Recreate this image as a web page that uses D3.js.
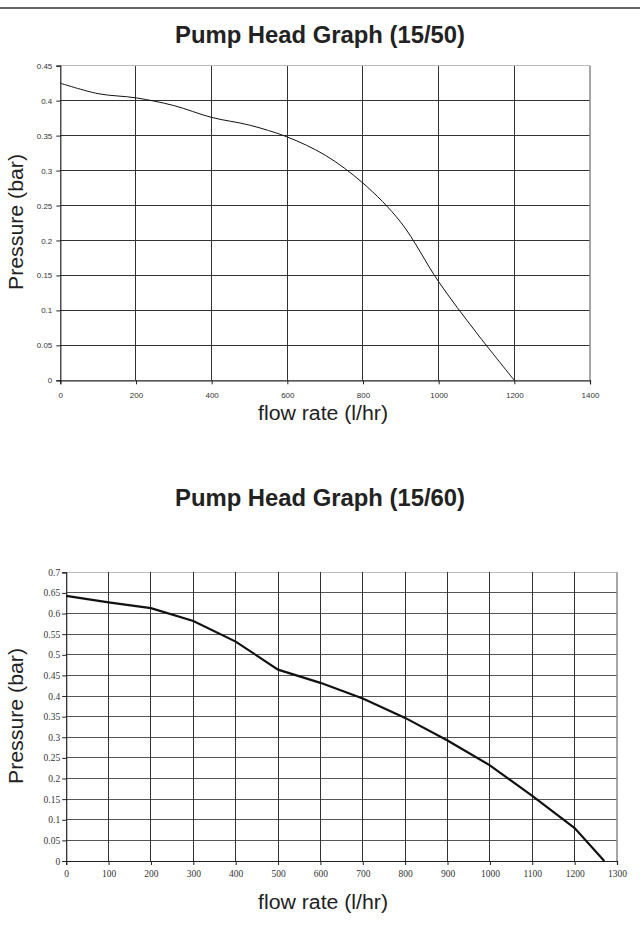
<!DOCTYPE html>
<html><head><meta charset="utf-8">
<script src="https://cdn.jsdelivr.net/npm/d3@7"></script>
<style>body{margin:0;background:#fff}svg{display:block}</style>
</head><body>
<script>
// Chart 1 (15/50)
const flow1 = [0,100,200,300,400,500,600,700,800,900,1000,1100,1200];
const pres1 = [0.425,0.41,0.404,0.393,0.376,0.365,0.348,0.322,0.282,0.226,0.141,0.068,0];
const xTicks1 = [0,200,400,600,800,1000,1200,1400];
const yTicks1 = [0,0.05,0.1,0.15,0.2,0.25,0.3,0.35,0.4,0.45];
// Chart 2 (15/60)
const flow2 = [0,100,200,300,400,500,600,700,800,900,1000,1100,1200,1270];
const pres2 = [0.643,0.627,0.613,0.582,0.532,0.464,0.432,0.394,0.347,0.292,0.232,0.158,0.08,0];
const xTicks2 = [0,100,200,300,400,500,600,700,800,900,1000,1100,1200,1300];
const yTicks2 = [0,0.05,0.1,0.15,0.2,0.25,0.3,0.35,0.4,0.45,0.5,0.55,0.6,0.65,0.7];
const titles = ["Pump Head Graph (15/50)","Pump Head Graph (15/60)"];
const xTitle = "flow rate (l/hr)";
const yTitle = "Pressure (bar)";

const W=640,H=945;
const svg=d3.select("body").append("svg").attr("width",W).attr("height",H);
svg.append("line").attr("x1",0).attr("x2",W).attr("y1",8).attr("y2",8).attr("stroke","#666").attr("stroke-width",2);

function chart(cfg){
  const g=svg.append("g");
  const x=d3.scaleLinear().domain(cfg.xd).range([cfg.l,cfg.r]);
  const y=d3.scaleLinear().domain(cfg.yd).range([cfg.b,cfg.t]);
  // title
  g.append("text").attr("x",320).attr("y",cfg.titleY).attr("text-anchor","middle")
   .attr("font-family","Liberation Sans, Arial, sans-serif").attr("font-weight","bold")
   .attr("font-size",24).attr("fill","#222").attr("textLength",290).attr("lengthAdjust","spacingAndGlyphs").text(cfg.title);
  // horizontal grid
  g.selectAll(".hg").data(cfg.yt.slice(1)).join("line")
   .attr("x1",cfg.l).attr("x2",cfg.r).attr("y1",d=>y(d)).attr("y2",d=>y(d))
   .attr("stroke",(d,i)=>i===cfg.yt.length-2?"#bbb":cfg.hcol).attr("stroke-width",1)
   .attr("shape-rendering","crispEdges");
  // vertical grid
  g.selectAll(".vg").data(cfg.xt.slice(1,-1)).join("line")
   .attr("y1",cfg.t).attr("y2",cfg.b).attr("x1",d=>x(d)).attr("x2",d=>x(d))
   .attr("stroke",cfg.vcol).attr("stroke-width",1).attr("shape-rendering","crispEdges");
  // right border
  g.append("line").attr("x1",cfg.r).attr("x2",cfg.r).attr("y1",cfg.t).attr("y2",cfg.b)
   .attr("stroke","#888").attr("stroke-width",1.5);
  // axes
  const ya=d3.axisLeft(y).tickValues(cfg.yt).tickSize(4).tickFormat(d=>d3.format("")(+d.toFixed(2)));
  const xa=d3.axisBottom(x).tickValues(cfg.xt).tickSize(4).tickFormat(d3.format("d"));
  const gy=g.append("g").attr("transform",`translate(${cfg.l},0)`).call(ya);
  const gx=g.append("g").attr("transform",`translate(0,${cfg.b})`).call(xa);
  [gx,gy].forEach(a=>{
    a.select(".domain").attr("stroke","#222").attr("stroke-width",1.2);
    a.selectAll(".tick line").attr("stroke","#222");
    a.selectAll("text").attr("font-family",cfg.tickFont).attr("font-size",cfg.tickSize).attr("fill","#333");
  });
  gy.selectAll("text").attr("x",-cfg.ytOff);
  gx.selectAll("text").attr("y",cfg.xtOff);
  // line
  const line=d3.line().x(d=>x(d[0])).y(d=>y(d[1])).curve(cfg.curve);
  g.append("path").datum(cfg.fl.map((f,i)=>[f,cfg.pr[i]])).attr("d",line)
   .attr("fill","none").attr("stroke","#111").attr("stroke-width",cfg.lw);
  // axis titles
  g.append("text").attr("x",cfg.xTitleX).attr("y",cfg.xTitleY).attr("text-anchor","middle")
   .attr("font-family","Liberation Sans, Arial, sans-serif").attr("font-size",20).attr("fill","#222")
   .attr("textLength",130).attr("lengthAdjust","spacingAndGlyphs").text(xTitle);
  g.append("text").attr("transform",`translate(23,${cfg.yTitleY}) rotate(-90)`).attr("text-anchor","middle")
   .attr("font-family","Liberation Sans, Arial, sans-serif").attr("font-size",20).attr("fill","#222")
   .attr("textLength",136).attr("lengthAdjust","spacingAndGlyphs").text(yTitle);
}

chart({title:titles[0],titleY:43,xd:[0,1400],yd:[0,0.45],l:60.3,r:590,t:65.7,b:380.3,
  xt:xTicks1,yt:yTicks1,fl:flow1,pr:pres1,curve:d3.curveCatmullRom.alpha(0.5),lw:1,
  hcol:"#333",vcol:"#333",tickFont:"Liberation Sans, Arial, sans-serif",tickSize:8,ytOff:8,xtOff:12,
  xTitleX:323,xTitleY:420,yTitleY:222});
chart({title:titles[1],titleY:506,xd:[0,1300],yd:[0,0.7],l:66.2,r:617,t:572.3,b:861,
  xt:xTicks2,yt:yTicks2,fl:flow2,pr:pres2,curve:d3.curveLinear,lw:2.2,
  hcol:"#555",vcol:"#333",tickFont:"Liberation Serif, Times New Roman, serif",tickSize:9.5,ytOff:6,xtOff:9,
  xTitleX:323,xTitleY:909,yTitleY:716});
</script>
</body></html>
